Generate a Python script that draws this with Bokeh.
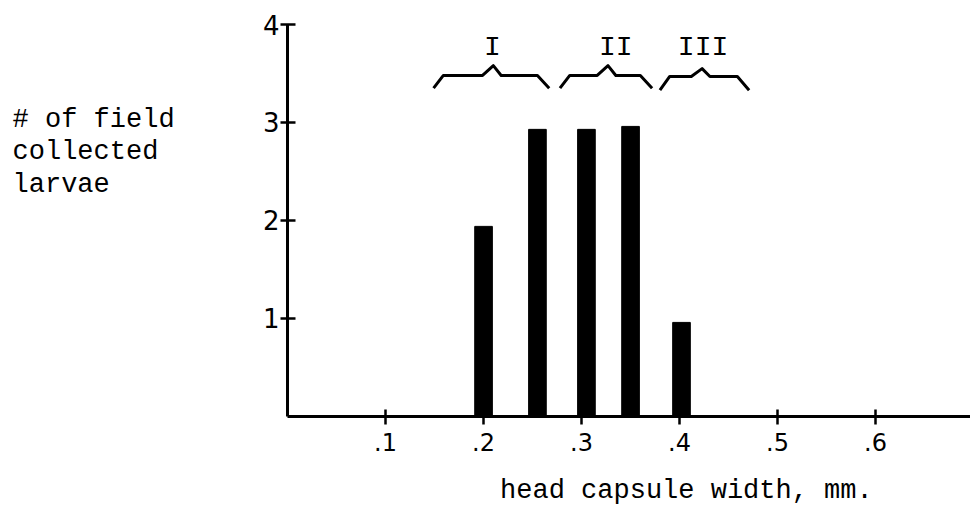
from bokeh.plotting import figure
from bokeh.models import Range1d, FixedTicker, Label, ColumnDataSource
from bokeh.core.properties import value
from bokeh.embed import file_html
from bokeh.resources import INLINE

# ---- data ----
widths_mm = [0.200, 0.255, 0.305, 0.350, 0.402]
larvae_counts = [1.94, 2.93, 2.93, 2.96, 0.96]

x_ticks = [0.1, 0.2, 0.3, 0.4, 0.5, 0.6]
x_tick_labels = [".1", ".2", ".3", ".4", ".5", ".6"]
y_ticks = [1, 2, 3, 4]
y_tick_labels = ["1", "2", "3", "4"]

instar_names = ["I", "II", "III"]
instar_label_x = [0.209, 0.335, 0.424]
brace_start = [0.149, 0.278, 0.380]
brace_peak = [0.210, 0.327, 0.423]
brace_end = [0.267, 0.372, 0.471]
brace_end_y = [3.35, 3.35, 3.33]
brace_flat_y = [3.48, 3.48, 3.47]
brace_peak_y = [3.58, 3.58, 3.55]
instar_label_y = 3.766

y_title_lines = ["# of field", "collected", "larvae"]
y_title_line_y = [3.021, 2.704, 2.358]
x_title = "head capsule width, mm."
x_title_pos = (0.407, -0.765)

TYPE_FONT = "Liberation Mono"
HAND_FONT = "DejaVu Sans"

W, H = 970, 508
p = figure(width=W, height=H,
           x_range=Range1d(-0.2929, 0.6969), y_range=Range1d(-0.9388, 4.2449),
           min_border_left=0, min_border_right=0,
           min_border_top=0, min_border_bottom=0,
           toolbar_location=None, output_backend="svg")
p.outline_line_color = None
p.xgrid.visible = False
p.ygrid.visible = False
p.background_fill_color = "white"
p.border_fill_color = "white"

# axes crossing at the origin
xa = p.xaxis[0]
xa.fixed_location = 0
xa.bounds = (0, 0.6969)
xa.ticker = FixedTicker(ticks=x_ticks)
xa.major_label_overrides = {t: l for t, l in zip(x_ticks, x_tick_labels)}
xa.minor_tick_line_color = None
xa.axis_line_width = 3
xa.axis_line_color = "black"
xa.major_tick_line_width = 2.5
xa.major_tick_line_color = "black"
xa.major_tick_in = 7
xa.major_tick_out = 8
xa.major_label_standoff = 9
xa.major_label_text_font = HAND_FONT
xa.major_label_text_font_size = "24px"
xa.major_label_text_color = "black"

ya = p.yaxis[0]
ya.fixed_location = 0
ya.bounds = (0, 4)
ya.ticker = FixedTicker(ticks=y_ticks)
ya.major_label_overrides = {t: l for t, l in zip(y_ticks, y_tick_labels)}
ya.minor_tick_line_color = None
ya.axis_line_width = 3
ya.axis_line_color = "black"
ya.major_tick_line_width = 2.5
ya.major_tick_line_color = "black"
ya.major_tick_in = 8
ya.major_tick_out = 7
ya.major_label_standoff = 1
ya.major_label_text_font = HAND_FONT
ya.major_label_text_font_size = "26px"
ya.major_label_text_color = "black"

# bars
p.vbar(x=widths_mm, top=larvae_counts, bottom=0, width=0.018,
       fill_color="black", line_color="black")

# braces over instar groups
for s, pk, e, ye, yf, yp in zip(brace_start, brace_peak, brace_end,
                                brace_end_y, brace_flat_y, brace_peak_y):
    bx = [s, s + 0.010, pk - 0.011, pk, pk + 0.008, e - 0.012, e]
    by = [ye, yf, yf, yp, yf, yf, ye]
    p.line(bx, by, line_color="black", line_width=3, line_join="round")

src = ColumnDataSource(dict(x=instar_label_x, y=[instar_label_y] * 3, t=instar_names))
p.text(x="x", y="y", text="t", source=src, text_align="center",
       text_baseline="alphabetic", text_font=value(TYPE_FONT),
       text_font_size="28px", text_color="black")

# y title (typewritten, horizontal, left)
for line, yy in zip(y_title_lines, y_title_line_y):
    p.add_layout(Label(x=-0.2806, y=yy, text=line, text_font=TYPE_FONT,
                       text_font_size="27px", text_align="left",
                       text_baseline="alphabetic", text_color="black"))

# x title
p.add_layout(Label(x=x_title_pos[0], y=x_title_pos[1], text=x_title,
                   text_font=TYPE_FONT, text_font_size="27px",
                   text_align="center", text_baseline="alphabetic",
                   text_color="black"))

open("out.html", "w").write(file_html(p, INLINE))
